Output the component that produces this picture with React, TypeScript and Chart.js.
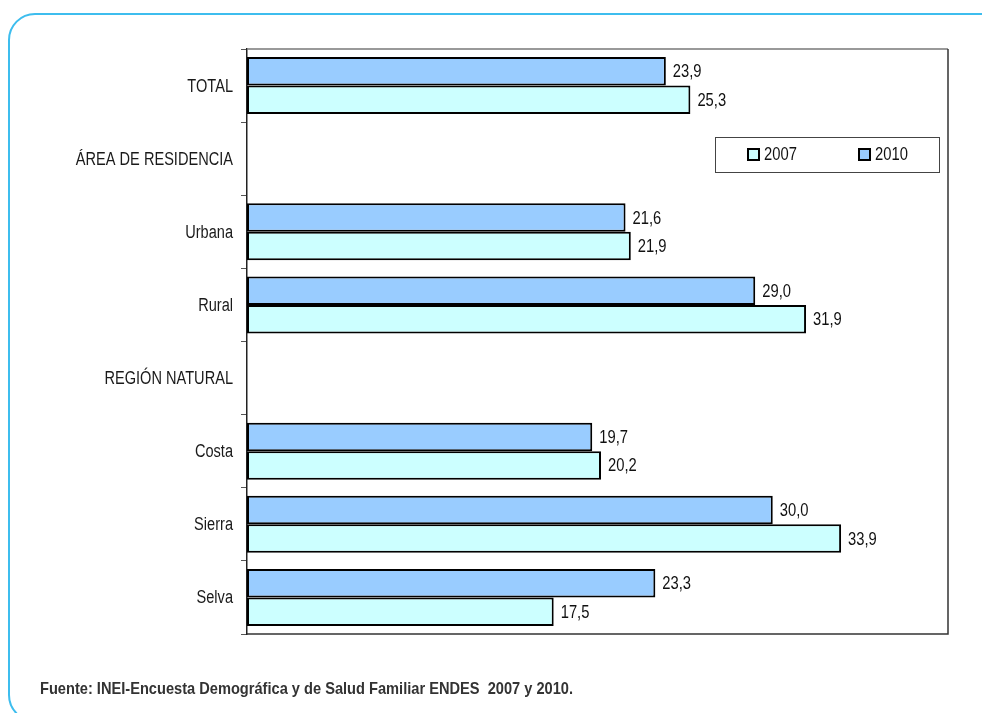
import React, { useEffect, useRef } from "react";
import { Chart, registerables } from "chart.js";

Chart.register(...registerables);

const categories = [
  "TOTAL",
  "ÁREA DE RESIDENCIA",
  "Urbana",
  "Rural",
  "REGIÓN NATURAL",
  "Costa",
  "Sierra",
  "Selva",
];
const values2010: (number | null)[] = [23.9, null, 21.6, 29.0, null, 19.7, 30.0, 23.3];
const values2007: (number | null)[] = [25.3, null, 21.9, 31.9, null, 20.2, 33.9, 17.5];
const seriesNames = ["2007", "2010"];
const sourceText = "Fuente: INEI-Encuesta Demográfica y de Salud Familiar ENDES  2007 y 2010.";
const xMin = 0;
const xMax = 40;

const FONT = '"Liberation Sans", Arial, sans-serif';
const COLOR_2010 = "#99ccff";
const COLOR_2007 = "#ccffff";

function narrowText(
  ctx: CanvasRenderingContext2D,
  text: string,
  x: number,
  y: number,
  font: string,
  sx: number,
  align: CanvasTextAlign,
  color: string
) {
  ctx.save();
  ctx.translate(x, y);
  ctx.scale(sx, 1);
  ctx.font = font;
  ctx.fillStyle = color;
  ctx.textAlign = align;
  ctx.textBaseline = "middle";
  ctx.fillText(text, 0, 0);
  ctx.restore();
}

const decorPlugin = {
  id: "decor",
  afterDatasetsDraw(chart: any) {
    const { ctx, chartArea } = chart;
    const { left, right, top, bottom } = chartArea;
    ctx.save();
    // plot frame (top, right, bottom)
    ctx.strokeStyle = "#777";
    ctx.lineWidth = 1.5;
    ctx.beginPath();
    ctx.moveTo(left, top);
    ctx.lineTo(right, top);
    ctx.stroke();
    ctx.strokeStyle = "#333";
    ctx.beginPath();
    ctx.moveTo(right, top);
    ctx.lineTo(right, bottom);
    ctx.lineTo(left, bottom);
    ctx.stroke();

    // category labels (narrow)
    const yScale = chart.scales.y;
    categories.forEach((c, i) => {
      const y = yScale.getPixelForTick(i);
      narrowText(ctx, c, left - 14, y + 1, `18px ${FONT}`, 0.81, "right", "#1a1a1a");
    });

    // value labels
    chart.data.datasets.forEach((ds: any, di: number) => {
      const meta = chart.getDatasetMeta(di);
      meta.data.forEach((el: any, i: number) => {
        const v = ds.data[i];
        if (v === null || v === undefined) return;
        narrowText(ctx, v.toFixed(1).replace(".", ","), el.x + 7, el.y + 1, `18px ${FONT}`, 0.82, "left", "#111");
      });
    });

    // legend box
    const lx = 715, ly = 137, lw = 224, lh = 35;
    ctx.fillStyle = "#fff";
    ctx.fillRect(lx, ly, lw, lh);
    ctx.strokeStyle = "#444";
    ctx.lineWidth = 1;
    ctx.strokeRect(lx + 0.5, ly + 0.5, lw, lh);
    const items = [
      { name: seriesNames[0], color: COLOR_2007, x: 748 },
      { name: seriesNames[1], color: COLOR_2010, x: 859 },
    ];
    items.forEach((it) => {
      ctx.fillStyle = it.color;
      ctx.fillRect(it.x, 149, 11, 11);
      ctx.strokeStyle = "#000";
      ctx.lineWidth = 2;
      ctx.strokeRect(it.x, 149, 11, 11);
      narrowText(ctx, it.name, it.x + 16, 155, `18px ${FONT}`, 0.82, "left", "#111");
    });

    // source note
    narrowText(ctx, sourceText, 40, 689, `bold 17px ${FONT}`, 0.86, "left", "#333");
    ctx.restore();
  },
};

export default function App() {
  const ref = useRef<HTMLCanvasElement | null>(null);
  useEffect(() => {
    if (!ref.current) return;
    const chart = new Chart(ref.current, {
      type: "bar",
      data: {
        labels: categories,
        datasets: [
          {
            label: seriesNames[1],
            data: values2010,
            backgroundColor: COLOR_2010,
            borderColor: "#000",
            borderWidth: 2,
            borderSkipped: false,
            barPercentage: 1,
            categoryPercentage: 0.78,
          },
          {
            label: seriesNames[0],
            data: values2007,
            backgroundColor: COLOR_2007,
            borderColor: "#000",
            borderWidth: 2,
            borderSkipped: false,
            barPercentage: 1,
            categoryPercentage: 0.78,
          },
        ],
      },
      options: {
        indexAxis: "y",
        responsive: false,
        animation: false,
        layout: { padding: { top: 49, right: 34, bottom: 79, left: 0 } },
        scales: {
          x: { min: xMin, max: xMax, display: false },
          y: {
            grid: {
              offset: true,
              drawOnChartArea: false,
              tickLength: 6,
              color: "#555",
              lineWidth: 1,
            },
            border: { color: "#222", width: 1.5 },
            ticks: { font: { family: FONT, size: 17 }, color: "rgba(0,0,0,0)", padding: 8 },
            afterFit(scale: any) {
              scale.width = 247;
            },
          },
        },
        plugins: { legend: { display: false }, tooltip: { enabled: false } },
      },
      plugins: [decorPlugin],
    } as any);
    return () => chart.destroy();
  }, []);

  return (
    <div style={{ position: "absolute", left: 0, top: 0, width: 982, height: 713, overflow: "hidden", background: "#fff" }}>
      <div
        style={{
          position: "absolute",
          left: 8,
          top: 13,
          width: 1000,
          height: 709,
          border: "2px solid #3dbdee",
          borderRadius: 27,
          boxSizing: "border-box",
        }}
      />
      <canvas ref={ref} width={982} height={713} style={{ position: "absolute", left: 0, top: 0 }} />
    </div>
  );
}
